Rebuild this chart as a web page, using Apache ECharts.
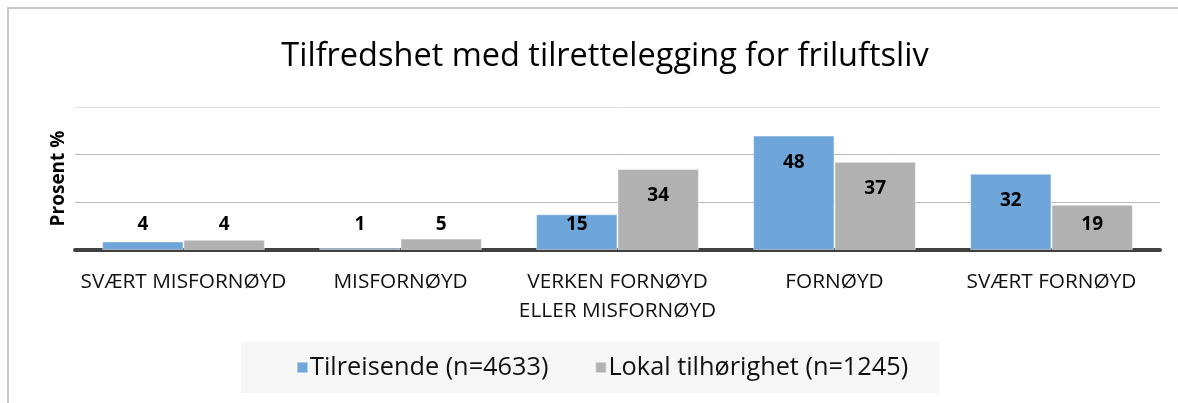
<!DOCTYPE html>
<html>
<head>
<meta charset="utf-8">
<script src="https://cdn.jsdelivr.net/npm/echarts@6/dist/echarts.min.js"></script>
<style>
  html, body { margin: 0; padding: 0; background: #fff; }
  #chart { width: 1178px; height: 403px; }
</style>
</head>
<body>
<div id="chart"></div>
<script>
const FONT = "'Open Sans', sans-serif";

const categories = [
  "SVÆRT MISFORNØYD",
  "MISFORNØYD",
  "VERKEN FORNØYD\nELLER MISFORNØYD",
  "FORNØYD",
  "SVÆRT FORNØYD",
];
const tilreisende = [3.6, 0.8, 15, 48, 32];
const lokal = [4.3, 4.8, 34, 37, 19];
const seriesNames = ["Tilreisende (n=4633)", "Lokal tilhørighet (n=1245)"];
const colors = ["#6fa6d9", "#b1b1b1"];

const chartEl = document.getElementById("chart");
const chart = echarts.init(chartEl);

// small bars get their label pinned a bit above the axis, taller ones just inside the top
function toItems(values) {
  return values.map((v) => {
    const big = v >= 22;
    return {
      value: v,
      label: big
        ? { position: "insideTop", distance: 17 }
        : { position: "insideBottom", distance: 15 },
    };
  });
}

const option = {
  animation: false,
  textStyle: { fontFamily: FONT },
  title: {
    text: "Tilfredshet med tilrettelegging for friluftsliv",
    left: 600,
    textAlign: "center",
    top: 35,
    textStyle: { fontFamily: FONT, fontSize: 32.5, fontWeight: "normal", color: "#000" },
  },
  graphic: [
    {
      type: "rect",
      silent: true,
      shape: { x: 8, y: 8, width: 1200, height: 430 },
      style: { fill: "none", stroke: "#c8c8c8", lineWidth: 2 },
    },
  ],
  legend: {
    data: seriesNames,
    left: 241,
    top: 342,
    padding: [13, 31, 13, 55],
    backgroundColor: "#f6f6f6",
    itemWidth: 11,
    itemHeight: 11,
    itemGap: 46,
    icon: "rect",
    textStyle: { fontFamily: FONT, fontSize: 25.3, color: "#111", padding: [0, 0, 0, -3] },
  },
  grid: { left: 75, right: 18, top: 107, bottom: 153 },
  xAxis: {
    type: "category",
    data: categories,
    axisTick: { show: false },
    axisLine: { lineStyle: { color: "#404040", width: 4 } },
    axisLabel: {
      fontFamily: FONT,
      fontSize: 20.8,
      color: "#111",
      margin: 18,
      lineHeight: 29,
      interval: 0,
    },
  },
  yAxis: {
    type: "value",
    min: 0,
    max: 60,
    interval: 20,
    name: "Prosent %",
    nameLocation: "middle",
    nameGap: 7,
    nameRotate: 90,
    nameTextStyle: { fontFamily: FONT, fontSize: 19, fontWeight: "bold", color: "#000" },
    axisLabel: { show: false },
    axisTick: { show: false },
    axisLine: { show: false },
    splitLine: {
      lineStyle: { color: ["#b8b8b8", "#b8b8b8", "#b8b8b8", "#e2e2e2"], width: 1 },
    },
  },
  series: [tilreisende, lokal].map((vals, i) => ({
    name: seriesNames[i],
    type: "bar",
    data: toItems(vals),
    barGap: "0%",
    barCategoryGap: "25%",
    itemStyle: { color: colors[i], borderColor: "rgba(255,255,255,0.45)", borderWidth: 1 },
    label: {
      show: true,
      fontFamily: FONT,
      fontSize: 19,
      fontWeight: "bold",
      color: "#000",
      lineHeight: 20,
      formatter: (p) => Math.round(p.value),
    },
  })),
};

chart.setOption(option);

window.addEventListener("resize", () => {
  chart.resize();
});
</script>
</body>
</html>
